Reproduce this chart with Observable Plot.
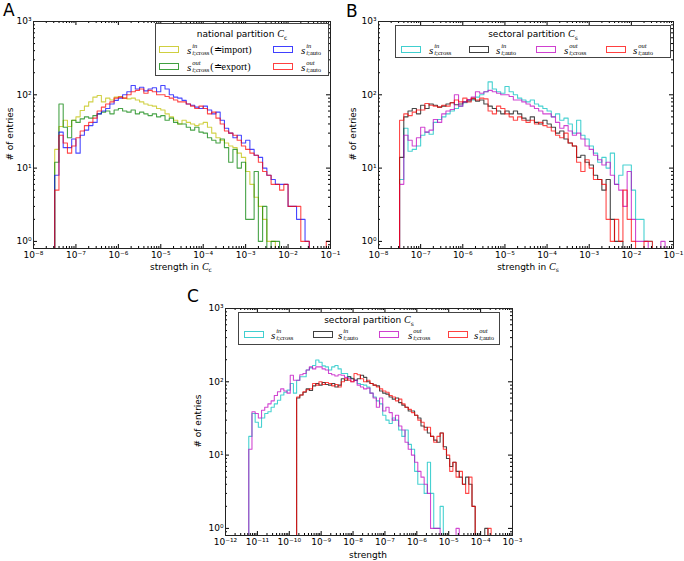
<!DOCTYPE html>
<html><head><meta charset="utf-8">
<script src="https://cdn.jsdelivr.net/npm/d3@7"></script>
<script src="https://cdn.jsdelivr.net/npm/@observablehq/plot@0.6"></script>
<style>
body{margin:0;background:#fff;font-family:"DejaVu Sans",sans-serif;color:#000;}
#root{position:relative;width:684px;height:561px;overflow:hidden;background:#fff;}
.pl{position:absolute;}
.letter{position:absolute;font-size:17px;line-height:17px;}
.ylab{position:absolute;font-size:9px;transform:translate(-50%,-50%) rotate(-90deg);white-space:nowrap;}
.xlab{position:absolute;font-size:9px;transform:translate(-50%,-50%);white-space:nowrap;}
.leg{position:absolute;border:1px solid #444;background:#fff;box-sizing:border-box;}
.leg .title{position:absolute;left:0;right:0;text-align:center;font-size:9px;line-height:12px;white-space:nowrap;}
.sw{position:absolute;width:20px;height:7px;box-sizing:border-box;border:1px solid;opacity:0.75;}
.lab{position:absolute;font-family:"Liberation Serif",serif;font-size:10px;white-space:nowrap;transform:translateY(-50%);display:flex;align-items:center;}
.ss{display:inline-flex;flex-direction:column;font-size:6.5px;line-height:6.5px;margin-left:1px;}
.ss .a{font-style:italic;}
.cal{font-family:"Liberation Serif",serif;font-style:italic;font-size:10px;}
sub{font-size:6px;}
</style></head>
<body><div id="root"></div>
<script>
// ---------------- data ----------------
const binWidth = 0.1;       // log10 width of each histogram bin
const yTickExp = [0, 1, 2, 3];
const xTickExpA = [-8, -7, -6, -5, -4, -3, -2, -1];
const xTickExpB = [-8, -7, -6, -5, -4, -3, -2, -1];
const xTickExpC = [-12, -11, -10, -9, -8, -7, -6, -5, -4, -3];

// Panel A: national partition (first bin edge log10 = -7.5)
const startA = -7.5;
const aInCross = [18,37,45,37,45,50,61,70,80,93, 98,80,90,85,93,95,90,88,90,85, 80,75,72,70,65,62,55,50,45,40,
  45,42,40,38,40,42,36,30,26,24, 22,20,19,16,14,9,6,4,3,2, 1,1];
const aOutCross = [12,75,36,26,45,42,47,50,48,52, 55,58,60,55,62,65,60,58,62,55, 58,55,52,55,50,52,45,48,42,40,
  40,36,33,36,31,30,26,24,22,25, 19,12,18,10,12,2,2,9,1,3, 0,1,1];
const aInAuto = [8,31,19,19,25,16,28,33,38,42, 55,60,65,75,84,90,100,110,134,120, 127,113,120,125,110,134,120,100,93,90,
  84,75,72,68,65,70,62,55,58,45, 35,30,26,28,22,24,18,15,14,10, 8,7,6,6,6,3,3,2,2,1];
const aOutAuto = [5,28,22,16,20,26,32,38,42,48, 60,68,75,80,90,93,90,100,110,115, 120,105,115,110,100,100,95,90,85,80,
  80,75,70,65,70,65,55,58,48,40, 32,30,28,24,20,18,16,15,12,9, 8,6,6,5,6,3,3,3,1,1, 0,0,0,0,1];

// Panel B: sectoral partition (first bin edge log10 = -7.5)
const startB = -7.5;
const bInCross = [7,35,17,18,20,28,31,29,42,46, 50,55,60,65,70,78,82,85,93,100, 110,150,120,110,105,130,110,100,90,85,
  80,85,75,70,65, 60,50,55,45,48, 40,30,45,28,25, 20,16,12,14,10, 16,6,8,11,11, 5,2,2,1,1];
const bInAuto = [14,50,60,65,55,72,65,75,72,68, 70,75,78,73,75,80,85,88,82,85, 75,70,65,60,55,60,55,60,55,48,
  45,50,42,40,45, 40,36,30,32,25, 22,20,14,15,12, 11,8,7,5,7, 2,1,1];
const bOutCross = [6,28,24,20,26,36,31,33,46,42, 55,60,63,100,70,80,86,93,110,105, 110,115,110,105,100,100,95,85,85,80,
  75,70,65,60,55, 55,50,42,35,38, 32,28,30,25,20, 18,15,13,11,12, 8,6,5,3,9, 2,1,1,1,0, 0,0,1];
const bOutAuto = [45,55,52,58,62,62,76,72,70,68, 72,70,78,85,80,90,80,90,85,90, 88,60,55,70,65,55,50,45,50,45,
  42,45,40,42,38, 36,32,28,26,30, 22,20,12,9,13, 10,7,7,6,2, 1,2,1,5,2, 1,0,0,1,1];

// Panel C: sectoral partition, raw strength
const startCcross = -11.27;
const startCauto = -9.77;
const cInCross = [18,37,28,24,32,37,39,45,50,56, 66,72,77,95,70,105,117,117,145,155, 167,198,185,165,160,145,160,167,150,130,
  130,117,112,105,95,92,90,85,70,62, 55,50,35,30,27, 32,30,22,18,22, 14,12,6,4,4, 3,8,3,1,1, 2];
const cOutCross = [12,39,37,32,41,45,50,55,65,73, 80,75,70,123,105,105,125,130,145,160, 150,160,160,150,145,130,125,120,125,123,
  115,110,100,105,90,85,80,82,70,60, 45,60,40,45,38, 30,35,25,22,15, 12,10,8,6,5, 4,3,1,1,1, 0,0,0,0,0, 1];
const cInAuto = [60,66,72,80,76, 88,95,90,98,92, 90,95,85,90,110, 105,117,110,105,110, 123,115,100,95,90,
  88,75,70,68,62, 58,60,52,48,45, 40,40,35,32,25, 24,20,18,16,15, 20,13,9,7,8, 6,5,4,5,4, 2,0,0,0,1];
const cOutAuto = [62,66,73,78,80, 95,90,100,92,98, 95,88,92,85,100, 110,105,100,130,125, 110,100,105,95,90,
  85,80,75,72,65, 62,55,58,50,45, 42,38,35,30,28, 22,24,18,15,18, 20,12,10,6,8, 5,6,4,3,5, 2,0,0,0,0, 1];

// legend texts
const legendTitleA = 'national partition <span class="cal">C</span><sub>c</sub>';
const legendTitleS = 'sectoral partition <span class="cal">C</span><sub>s</sub>';
const legendA = [
  {sup: "in", sub: "i;cross", extra: "(≐import)"},
  {sup: "out", sub: "i;cross", extra: "(≐export)"},
  {sup: "in", sub: "i;auto", extra: ""},
  {sup: "out", sub: "i;auto", extra: ""}
];
const legendS = [
  {sup: "in", sub: "i;cross", extra: ""},
  {sup: "in", sub: "i;auto", extra: ""},
  {sup: "out", sub: "i;cross", extra: ""},
  {sup: "out", sub: "i;auto", extra: ""}
];
const xLabelA = 'strength in <span class="cal">C</span><sub>c</sub>';
const xLabelB = 'strength in <span class="cal">C</span><sub>s</sub>';
const xLabelC = 'strength';
const yLabel = '# of entries';

// ---------------- styles ----------------
const col = {yellow: "#bfbf00", green: "#008000", blue: "#0000ff", red: "#ff0000",
             cyan: "#00bfbf", black: "#000000", magenta: "#bf00bf"};

// ---------------- helpers ----------------
const FLOOR = 0.1; // empty bins drop below the visible range (like matplotlib log step)
function stepPoints(start, counts) {
  const pts = [{x: 10 ** start, y: FLOOR}];
  counts.forEach((c, i) => pts.push({x: 10 ** (start + i * binWidth), y: c > 0 ? c : FLOOR}));
  pts.push({x: 10 ** (start + counts.length * binWidth), y: FLOOR});
  return pts;
}
const supMap = {"-": "⁻", "0": "⁰", "1": "¹", "2": "²", "3": "³", "4": "⁴", "5": "⁵", "6": "⁶", "7": "⁷", "8": "⁸", "9": "⁹"};
const fmt = d => "10" + String(Math.round(Math.log10(d))).split("").map(c => supMap[c]).join("");

function makePanel({series, xExp, width, height, ml, mr, mt, mb}) {
  const iw = width - ml - mr, ih = height - mt - mb;
  const xMaj = xExp.map(e => 10 ** e);
  const xMin = [];
  xExp.slice(0, -1).forEach(e => { for (let k = 2; k < 10; k++) xMin.push(k * 10 ** e); });
  const yMaj = yTickExp.map(e => 10 ** e);
  const yMin = [0.9];
  yTickExp.slice(0, -1).forEach(e => { for (let k = 2; k < 10; k++) yMin.push(k * 10 ** e); });
  const marks = [];
  for (const s of series) {
    marks.push(Plot.line(stepPoints(s.start, s.counts), {x: "x", y: "y", curve: "step-after",
      stroke: s.color, strokeOpacity: 0.72, strokeWidth: 1.1, clip: true}));
  }
  const tick = (vals, side, len) => {
    if (side === "bottom") return Plot.tickX(vals, {x: d => d, insetTop: ih - len, stroke: "#000"});
    if (side === "top") return Plot.tickX(vals, {x: d => d, insetBottom: ih - len, stroke: "#000"});
    if (side === "left") return Plot.tickY(vals, {y: d => d, insetRight: iw - len, stroke: "#000"});
    return Plot.tickY(vals, {y: d => d, insetLeft: iw - len, stroke: "#000"});
  };
  marks.push(tick(xMaj, "bottom", 4), tick(xMaj, "top", 4), tick(xMin, "bottom", 2), tick(xMin, "top", 2));
  marks.push(tick(yMaj, "left", 4), tick(yMaj, "right", 4), tick(yMin, "left", 2), tick(yMin, "right", 2));
  marks.push(Plot.frame({stroke: "#222"}));
  return Plot.plot({
    width, height, marginLeft: ml, marginRight: mr, marginTop: mt, marginBottom: mb,
    style: {fontFamily: "DejaVu Sans", fontSize: "9px", background: "transparent", color: "#000"},
    x: {type: "log", domain: [xMaj[0], xMaj[xMaj.length - 1]], ticks: xMaj, tickFormat: fmt, tickSize: 0, tickPadding: 3, label: null},
    y: {type: "log", domain: [0.8, 1000], ticks: yMaj, tickFormat: fmt, tickSize: 0, tickPadding: 2, label: null},
    marks
  });
}

const root = document.getElementById("root");
function place(node, left, top, w, h) {
  const d = document.createElement("div");
  d.className = "pl";
  Object.assign(d.style, {left: left + "px", top: top + "px", width: w + "px", height: h + "px"});
  d.appendChild(node);
  root.appendChild(d);
}
function html(cls, inner, left, top) {
  const d = document.createElement("div");
  d.className = cls; d.innerHTML = inner;
  d.style.left = left + "px"; d.style.top = top + "px";
  root.appendChild(d);
  return d;
}
function mathLabel(e) {
  return `<i style="font-size:11px">s</i><span class="ss"><span class="a">${e.sup}</span><span><span class="a">i</span>${e.sub.slice(1)}</span></span>${e.extra ? '<span style="margin-left:1px">' + e.extra + '</span>' : ''}`;
}
function legend(box, title, titleY, entries, colors, pos) {
  const d = document.createElement("div");
  d.className = "leg";
  Object.assign(d.style, {left: box[0] + "px", top: box[1] + "px", width: box[2] + "px", height: box[3] + "px"});
  const t = document.createElement("div");
  t.className = "title"; t.innerHTML = title; t.style.top = (titleY - 6) + "px";
  d.appendChild(t);
  entries.forEach((e, k) => {
    const [sx, lx, cy] = pos[k];
    const sw = document.createElement("div");
    sw.className = "sw"; sw.style.borderColor = colors[k];
    sw.style.left = sx + "px"; sw.style.top = (cy - 3.5) + "px";
    d.appendChild(sw);
    const lb = document.createElement("div");
    lb.className = "lab"; lb.innerHTML = mathLabel(e);
    lb.style.left = lx + "px"; lb.style.top = cy + "px";
    d.appendChild(lb);
  });
  root.appendChild(d);
}

// ---------------- panels ----------------
const pA = makePanel({series: [
  {start: startA, counts: aInCross, color: col.yellow},
  {start: startA, counts: aOutCross, color: col.green},
  {start: startA, counts: aInAuto, color: col.blue},
  {start: startA, counts: aOutAuto, color: col.red}],
  xExp: xTickExpA, width: 342, height: 280, ml: 33, mr: 12, mt: 21, mb: 32});
place(pA, 0, 0, 342, 280);

const pB = makePanel({series: [
  {start: startB, counts: bInCross, color: col.cyan},
  {start: startB, counts: bInAuto, color: col.black},
  {start: startB, counts: bOutCross, color: col.magenta},
  {start: startB, counts: bOutAuto, color: col.red}],
  xExp: xTickExpB, width: 342, height: 280, ml: 36, mr: 11, mt: 21, mb: 32});
place(pB, 342, 0, 342, 280);

const pC = makePanel({series: [
  {start: startCcross, counts: cInCross, color: col.cyan},
  {start: startCauto, counts: cInAuto, color: col.black},
  {start: startCcross, counts: cOutCross, color: col.magenta},
  {start: startCauto, counts: cOutAuto, color: col.red}],
  xExp: xTickExpC, width: 360, height: 281, ml: 55, mr: 18, mt: 28, mb: 26});
place(pC, 170, 280, 360, 281);

// legends
legend([155, 23, 174, 53], legendTitleA, 10, legendA, [col.yellow, col.green, col.blue, col.red],
  [[3, 31, 25], [3, 31, 42], [117, 145, 25], [117, 145, 42]]);
legend([395, 25, 276, 33], legendTitleS, 8, legendS, [col.cyan, col.black, col.magenta, col.red],
  [[5, 33, 23], [73, 100, 23], [140, 168, 23], [210, 237, 23]]);
legend([238, 312, 262, 33], legendTitleS, 7, legendS, [col.cyan, col.black, col.magenta, col.red],
  [[5, 32, 21], [74, 99, 21], [140, 169, 21], [209, 235, 21]]);

// axis labels and panel letters
html("ylab", yLabel, 10, 134);
html("ylab", yLabel, 353, 134);
html("ylab", yLabel, 198, 421);
html("xlab", xLabelA, 181, 267);
html("xlab", xLabelB, 528, 267);
html("xlab", xLabelC, 368, 555);
html("letter", "A", 3, 2);
html("letter", "B", 346, 3);
html("letter", "C", 187, 288);
</script></body></html>
